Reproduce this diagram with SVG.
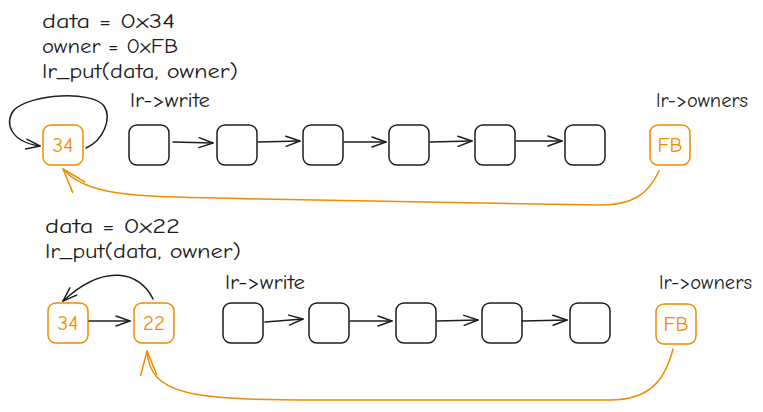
<svg xmlns="http://www.w3.org/2000/svg" width="763" height="412" viewBox="0 0 763 412">
<style>
  .t { font-family: "Comic Neue", "Liberation Sans", "DejaVu Sans", sans-serif; font-size: 20px; fill: #1e1e1e; }
  .ot { font-family: "Comic Neue", "Liberation Sans", "DejaVu Sans", sans-serif; font-size: 21px; fill: #f08c00; text-anchor: middle; }
  .box { fill: none; stroke: #1e1e1e; stroke-width: 1.5; }
  .obox { fill: none; stroke: #f08c00; stroke-width: 1.5; }
  .c { fill: none; stroke: #1e1e1e; stroke-width: 1.5; stroke-linecap: round; }
  .oc { fill: none; stroke: #f08c00; stroke-width: 1.5; stroke-linecap: round; }
</style>
<defs>
  <marker id="ah" viewBox="0 0 16 12" refX="15" refY="6" markerWidth="16" markerHeight="12" markerUnits="userSpaceOnUse" orient="auto">
    <path d="M1,1 L15,6 L1,11" fill="none" stroke="#1e1e1e" stroke-width="1.5" stroke-linecap="round" stroke-linejoin="round"/>
  </marker>
  <marker id="oah" viewBox="0 0 26 18" refX="25" refY="9" markerWidth="26" markerHeight="18" markerUnits="userSpaceOnUse" orient="auto">
    <path d="M1,1 L25,9 L1,17" fill="none" stroke="#f08c00" stroke-width="1.5" stroke-linecap="round" stroke-linejoin="round"/>
  </marker>
</defs>
<rect width="763" height="412" fill="#ffffff"/>

<g id="labels-top">
  <text class="t" x="42" y="28" textLength="133" lengthAdjust="spacingAndGlyphs">data = 0x34</text>
  <text class="t" x="42" y="53" textLength="136" lengthAdjust="spacingAndGlyphs">owner = 0xFB</text>
  <text class="t" x="42" y="78" textLength="196" lengthAdjust="spacingAndGlyphs">lr_put(data, owner)</text>
  <text class="t" x="130" y="107" textLength="80" lengthAdjust="spacingAndGlyphs">lr-&gt;write</text>
  <text class="t" x="656" y="107" textLength="92" lengthAdjust="spacingAndGlyphs">lr-&gt;owners</text>
</g>

<g id="n34a"><rect class="obox" x="43" y="125" width="40" height="40" rx="8"/><text class="ot" x="63" y="152">34</text></g>
<g id="w1a"><rect class="box" x="129" y="125" width="40" height="40" rx="8"/></g>
<g id="w2a"><rect class="box" x="217" y="125" width="40" height="40" rx="8"/></g>
<g id="w3a"><rect class="box" x="303" y="125" width="40" height="40" rx="8"/></g>
<g id="w4a"><rect class="box" x="389" y="125" width="40" height="40" rx="8"/></g>
<g id="w5a"><rect class="box" x="475" y="125" width="40" height="40" rx="8"/></g>
<g id="w6a"><rect class="box" x="565" y="125" width="40" height="40" rx="8"/></g>
<g id="fba"><rect class="obox" x="650" y="125" width="40" height="40" rx="8"/><text class="ot" x="670" y="152">FB</text></g>

<g id="labels-bottom">
  <text class="t" x="45" y="233" textLength="135" lengthAdjust="spacingAndGlyphs">data = 0x22</text>
  <text class="t" x="45" y="258" textLength="196" lengthAdjust="spacingAndGlyphs">lr_put(data, owner)</text>
  <text class="t" x="225" y="289" textLength="80" lengthAdjust="spacingAndGlyphs">lr-&gt;write</text>
  <text class="t" x="659" y="289" textLength="93" lengthAdjust="spacingAndGlyphs">lr-&gt;owners</text>
</g>

<g id="n34b"><rect class="obox" x="48" y="303" width="40" height="40" rx="8"/><text class="ot" x="68" y="330">34</text></g>
<g id="n22b"><rect class="obox" x="134" y="303" width="40" height="40" rx="8"/><text class="ot" x="154" y="330">22</text></g>
<g id="w1b"><rect class="box" x="223" y="303" width="40" height="40" rx="8"/></g>
<g id="w2b"><rect class="box" x="309" y="303" width="40" height="40" rx="8"/></g>
<g id="w3b"><rect class="box" x="396" y="303" width="40" height="40" rx="8"/></g>
<g id="w4b"><rect class="box" x="482" y="303" width="40" height="40" rx="8"/></g>
<g id="w5b"><rect class="box" x="570" y="303" width="40" height="40" rx="8"/></g>
<g id="fbb"><rect class="obox" x="656" y="304" width="40" height="40" rx="8"/><text class="ot" x="676" y="331">FB</text></g>

<g id="connectors">
  <!-- top row -->
  <path class="c" d="M86,148 C104,140 112,118 104,106 C92,90 30,94 14,110 C4,122 10,142 40,146" marker-end="url(#ah)"/>
  <path class="c" d="M173,142 L213,143" marker-end="url(#ah)"/>
  <path class="c" d="M258,142 L300,141" marker-end="url(#ah)"/>
  <path class="c" d="M344,142 L386,142" marker-end="url(#ah)"/>
  <path class="c" d="M430,142 L472,141" marker-end="url(#ah)"/>
  <path class="c" d="M516,141 L562,141" marker-end="url(#ah)"/>
  <path class="oc" d="M659,171 C648,195 632,205 600,205 L260,199 C150,196 90,200 63,169" marker-end="url(#oah)"/>
  <!-- bottom row -->
  <path class="c" d="M153,299 C140,272 105,262 63,301" marker-end="url(#ah)"/>
  <path class="c" d="M89,321 L130,321" marker-end="url(#ah)"/>
  <path class="c" d="M265,322 L303,319" marker-end="url(#ah)"/>
  <path class="c" d="M350,321 L392,321" marker-end="url(#ah)"/>
  <path class="c" d="M437,321 L478,320" marker-end="url(#ah)"/>
  <path class="c" d="M522,321 L567,320" marker-end="url(#ah)"/>
  <path class="oc" d="M673,349 C665,380 650,400 610,400 L320,400 C190,400 150,395 147,351" marker-end="url(#oah)"/>
</g>
</svg>
